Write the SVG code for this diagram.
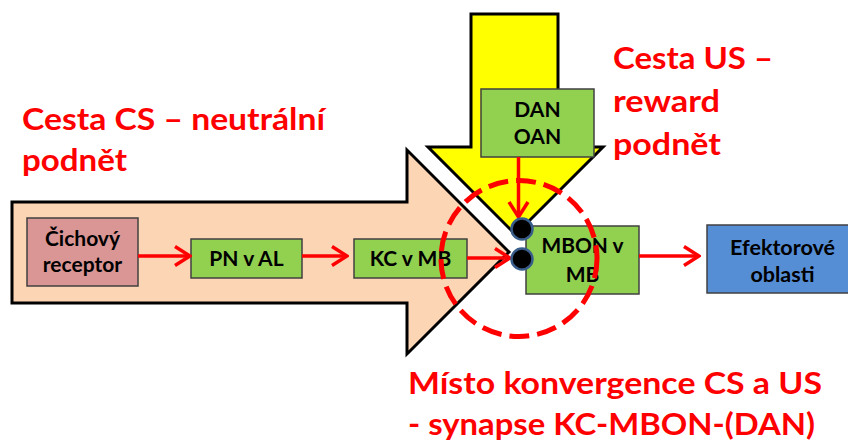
<svg xmlns="http://www.w3.org/2000/svg" width="848" height="444" viewBox="0 0 848 444">
<style>
.title{font-family:Lato,"Liberation Sans",sans-serif;font-weight:bold;font-size:31px;fill:#ff0000}
.lbl{font-family:Lato,"Liberation Sans",sans-serif;font-weight:bold;font-size:21px;fill:#000;text-anchor:middle}
.box{stroke:#404040;stroke-width:1.5}
.big{stroke:#000;stroke-width:3;stroke-linejoin:miter}
.con{stroke:#ff0000;stroke-width:3.5;fill:none}
.dot{fill:#000;stroke:#385d8a;stroke-width:2.5}
</style>
<defs>
<marker id="ah" viewBox="0 0 20 24" refX="18" refY="12" markerWidth="20" markerHeight="24" markerUnits="userSpaceOnUse" orient="auto">
<path d="M3,2.5 L18,12 L3,21.5" fill="none" stroke="#ff0000" stroke-width="3.5"/>
</marker>
</defs>
<rect width="848" height="444" fill="#fff"/>
<g id="cs-arrow">
<path class="big" fill="#fcd5b5" d="M12,202 L407,202 L407,150 L509,252 L407,354 L407,303 L12,303 Z"/>
</g>
<g id="us-arrow">
<path class="big" fill="#ffff00" d="M471,14 L558,14 L558,147 L603,147 L515.5,234.5 L428,147 L471,147 Z"/>
</g>
<g id="texts">
<text class="title" x="22" y="130" textLength="303" lengthAdjust="spacingAndGlyphs">Cesta CS – neutrální</text>
<text class="title" x="22" y="171" textLength="105" lengthAdjust="spacingAndGlyphs">podnět</text>
<text class="title" x="613" y="69" textLength="160" lengthAdjust="spacingAndGlyphs">Cesta US –</text>
<text class="title" x="613" y="112" textLength="107" lengthAdjust="spacingAndGlyphs">reward</text>
<text class="title" x="613" y="155" textLength="108" lengthAdjust="spacingAndGlyphs">podnět</text>
<text class="title" x="408" y="394" textLength="414" lengthAdjust="spacingAndGlyphs">Místo konvergence CS a US</text>
<text class="title" x="408" y="435" textLength="407" lengthAdjust="spacingAndGlyphs">- synapse KC-MBON-(DAN)</text>
</g>
<g id="receptor">
<rect class="box" x="27" y="218" width="111" height="68" fill="#d99694"/>
<text class="lbl" x="82.5" y="246">Čichový</text>
<text class="lbl" x="82.5" y="272">receptor</text>
</g>
<g id="pn">
<rect class="box" x="191" y="239" width="111" height="39" fill="#92d050"/>
<text class="lbl" x="246.5" y="266">PN v AL</text>
</g>
<g id="kc">
<rect class="box" x="354" y="239" width="113" height="39" fill="#92d050"/>
<text class="lbl" x="410.5" y="266">KC v MB</text>
</g>
<g id="mbon">
<rect class="box" x="526" y="226" width="113" height="68" fill="#92d050"/>
<text class="lbl" x="582.5" y="253" textLength="82" lengthAdjust="spacingAndGlyphs">MBON v</text>
<text class="lbl" x="582.5" y="282">MB</text>
</g>
<g id="efektor">
<rect class="box" x="707" y="225" width="146" height="68" fill="#558ed5"/>
<text class="lbl" x="782.5" y="255" textLength="105" lengthAdjust="spacingAndGlyphs">Efektorové</text>
<text class="lbl" x="782.5" y="282" textLength="64" lengthAdjust="spacingAndGlyphs">oblasti</text>
</g>
<g id="dan">
<rect class="box" x="481" y="89" width="113" height="68" fill="#92d050"/>
<text class="lbl" x="537.5" y="117">DAN</text>
<text class="lbl" x="537.5" y="144">OAN</text>
</g>
<g id="connectors">
<line class="con" x1="138" y1="256" x2="190" y2="256" marker-end="url(#ah)"/>
<line class="con" x1="302" y1="256" x2="347" y2="256" marker-end="url(#ah)"/>
<line class="con" x1="467" y1="258" x2="510" y2="258" marker-end="url(#ah)"/>
<line class="con" x1="518.5" y1="157" x2="518.5" y2="217" marker-end="url(#ah)"/>
<line class="con" x1="639" y1="256" x2="699" y2="256" marker-end="url(#ah)"/>
</g>
<g id="synapses">
<circle class="dot" cx="522" cy="229" r="10.5"/>
<circle class="dot" cx="522" cy="259" r="10.5"/>
</g>
<g id="convergence">
<circle cx="519" cy="258.5" r="78" fill="none" stroke="#ff0000" stroke-width="5" stroke-dasharray="20 8"/>
</g>
</svg>
